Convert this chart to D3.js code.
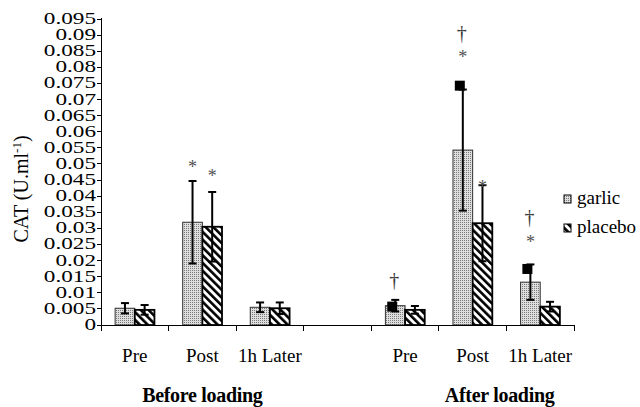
<!DOCTYPE html>
<html><head><meta charset="utf-8">
<script src="https://cdn.jsdelivr.net/npm/d3@7/dist/d3.min.js"></script>
<style>
html,body{margin:0;padding:0;background:#fff;}
svg{display:block;font-family:"Liberation Serif","Times New Roman",serif;}
</style></head>
<body>
<svg id="chart" width="640" height="407"></svg>
<script>
// ---- data ----
const categories = ["Pre", "Post", "1h Later", "", "Pre", "Post", "1h Later"];
const groupLabels = ["Before loading", "After loading"];
const seriesNames = ["garlic", "placebo"];
const garlicMean  = [0.0052, 0.0319, 0.0055, null, 0.0060, 0.0543, 0.0133];
const garlicSD    = [0.0016, 0.0128, 0.0015, null, 0.0018, 0.0188, 0.0055];
const placeboMean = [0.0047, 0.0305, 0.0052, null, 0.0047, 0.0316, 0.0057];
const placeboSD   = [0.0015, 0.0108, 0.0018, null, 0.0012, 0.0118, 0.0015];
const yTickValues = [0,0.005,0.01,0.015,0.02,0.025,0.03,0.035,0.04,0.045,0.05,0.055,0.06,0.065,0.07,0.075,0.08,0.085,0.09,0.095];
const yTickLabels = ["0","0.005","0.01","0.015","0.02","0.025","0.03","0.035","0.04","0.045","0.05","0.055","0.06","0.065","0.07","0.075","0.08","0.085","0.09","0.095"];
// significance symbols: category index, series, level (data units)
const asterisks = [
  {cat: 1, series: 0, value: 0.0497},
  {cat: 1, series: 1, value: 0.0468},
  {cat: 5, series: 0, value: 0.0838},
  {cat: 5, series: 1, value: 0.0435},
  {cat: 6, series: 0, value: 0.0265}
];
const daggers = [
  {cat: 4, series: 0, value: 0.0137},
  {cat: 5, series: 0, value: 0.0902},
  {cat: 6, series: 0, value: 0.0331}
];
const squares = [
  {cat: 4, value: 0.0057},
  {cat: 5, value: 0.0743},
  {cat: 6, value: 0.0174}
];

// ---- layout ----
const svg = d3.select("#chart");
const x0 = 101, x1 = 574, yTop = 19, yBase = 325;
const x = d3.scaleBand().domain(d3.range(categories.length)).range([x0, x1]).paddingInner(0).paddingOuter(0);
const y = d3.scaleLinear().domain([0, 0.095]).range([yBase, yTop]);
const bw = x.bandwidth() * 0.291;
const center = i => x(i) + x.bandwidth() / 2;

// ---- patterns ----
const defs = svg.append("defs");
const dots = defs.append("pattern").attr("id", "dots").attr("patternUnits", "userSpaceOnUse")
  .attr("width", 2).attr("height", 2);
dots.append("rect").attr("width", 2).attr("height", 2).attr("fill", "#dedede");
dots.append("rect").attr("width", 1).attr("height", 1).attr("fill", "#7a7a7a");
const stripes = defs.append("pattern").attr("id", "stripes").attr("patternUnits", "userSpaceOnUse")
  .attr("width", 5.5).attr("height", 5.5).attr("patternTransform", "rotate(-45)");
stripes.append("rect").attr("width", 5.5).attr("height", 5.5).attr("fill", "#fff");
stripes.append("rect").attr("width", 2.6).attr("height", 5.5).attr("fill", "#000");

const fills = ["url(#dots)", "url(#stripes)"];
const strokes = ["#333", "#000"];
const strokeW = [1, 1.8];

// ---- bars ----
const series = [
  {mean: garlicMean, sd: garlicSD},
  {mean: placeboMean, sd: placeboSD}
];
series.forEach((s, si) => {
  const data = s.mean.map((m, i) => ({i, m, sd: s.sd[i]})).filter(d => d.m != null);
  const g = svg.append("g");
  g.selectAll("rect").data(data).join("rect")
    .attr("x", d => center(d.i) - bw + si * bw)
    .attr("y", d => y(d.m))
    .attr("width", bw)
    .attr("height", d => y(0) - y(d.m))
    .attr("fill", fills[si])
    .attr("stroke", strokes[si])
    .attr("stroke-width", strokeW[si]);
  // error bars
  const eg = svg.append("g").attr("stroke", "#000").attr("stroke-width", 2);
  data.forEach(d => {
    const cx = center(d.i) - bw / 2 + si * bw;
    eg.append("line").attr("x1", cx).attr("x2", cx).attr("y1", y(d.m + d.sd)).attr("y2", y(d.m - d.sd));
    eg.append("line").attr("x1", cx - 4).attr("x2", cx + 4).attr("y1", y(d.m + d.sd)).attr("y2", y(d.m + d.sd));
    eg.append("line").attr("x1", cx - 4).attr("x2", cx + 4).attr("y1", y(d.m - d.sd)).attr("y2", y(d.m - d.sd));
  });
});

// black squares
svg.append("g").selectAll("rect").data(squares).join("rect")
  .attr("x", d => center(d.cat) - bw / 2 - 8)
  .attr("y", d => y(d.value) - 5)
  .attr("width", 10).attr("height", 10).attr("fill", "#000");

// asterisks & daggers
svg.append("g").selectAll("text").data(asterisks).join("text")
  .attr("x", d => center(d.cat) - bw / 2 + d.series * bw)
  .attr("y", d => y(d.value) + 8)
  .attr("text-anchor", "middle").attr("font-size", 18).attr("fill", "#505050")
  .text("*");
svg.append("g").selectAll("text").data(daggers).join("text")
  .attr("x", d => center(d.cat) - bw / 2 + d.series * bw - 1)
  .attr("y", d => y(d.value) + 6)
  .attr("text-anchor", "middle").attr("font-size", 20).attr("fill", "#3a3a3a")
  .text("\u2020");

// ---- axes ----
const ax = svg.append("g").attr("stroke", "#000").attr("stroke-width", 1).attr("shape-rendering", "crispEdges");
ax.append("line").attr("x1", x0).attr("x2", x0).attr("y1", yTop - 1).attr("y2", yBase + 5);
ax.append("line").attr("x1", x0).attr("x2", x1).attr("y1", yBase).attr("y2", yBase);
// x ticks at category boundaries
const bounds = d3.range(categories.length + 1).map(i => x0 + i * x.bandwidth());
ax.selectAll(".xt").data(bounds).join("line")
  .attr("x1", d => d).attr("x2", d => d).attr("y1", yBase).attr("y2", yBase + 6);
// y ticks
ax.selectAll(".yt").data(yTickValues).join("line")
  .attr("x1", x0 - 4).attr("x2", x0).attr("y1", d => y(d)).attr("y2", d => y(d));

svg.append("g").selectAll("text").data(yTickValues).join("text")
  .attr("transform", d => `translate(96,${y(d) + 5}) scale(1.45,1)`)
  .attr("text-anchor", "end").attr("font-size", 16).attr("fill", "#000")
  .text((d, i) => yTickLabels[i]);

// x labels
svg.append("g").selectAll("text").data(categories).join("text")
  .attr("x", (d, i) => center(i)).attr("y", 362)
  .attr("text-anchor", "middle").attr("font-size", 19).attr("fill", "#000")
  .text(d => d);

// group labels
svg.append("text").attr("x", center(1)).attr("y", 402)
  .attr("text-anchor", "middle").attr("font-size", 20).attr("font-weight", "bold")
  .attr("letter-spacing", -0.3).text(groupLabels[0]);
svg.append("text").attr("x", x(5) + x.bandwidth() * 0.9).attr("y", 402)
  .attr("text-anchor", "middle").attr("font-size", 20).attr("font-weight", "bold")
  .attr("letter-spacing", -0.3).text(groupLabels[1]);

// y label
const yl = svg.append("text").attr("transform", "translate(28,189) rotate(-90)")
  .attr("text-anchor", "middle").attr("font-size", 20).attr("fill", "#000");
yl.append("tspan").text("CAT (U.ml");
yl.append("tspan").attr("font-size", 13).attr("dy", -7).text("-1");
yl.append("tspan").attr("dy", 7).text(")");

// legend
const lg = svg.append("g");
seriesNames.forEach((n, i) => {
  const ly = 204 + i * 29;
  lg.append("rect").attr("x", 564).attr("y", ly - 9).attr("width", 7).attr("height", 8)
    .attr("fill", fills[i]).attr("stroke", "#000").attr("stroke-width", 1);
  lg.append("text").attr("x", 577).attr("y", ly).attr("font-size", 19).attr("fill", "#000").text(n);
});
</script>
</body></html>
